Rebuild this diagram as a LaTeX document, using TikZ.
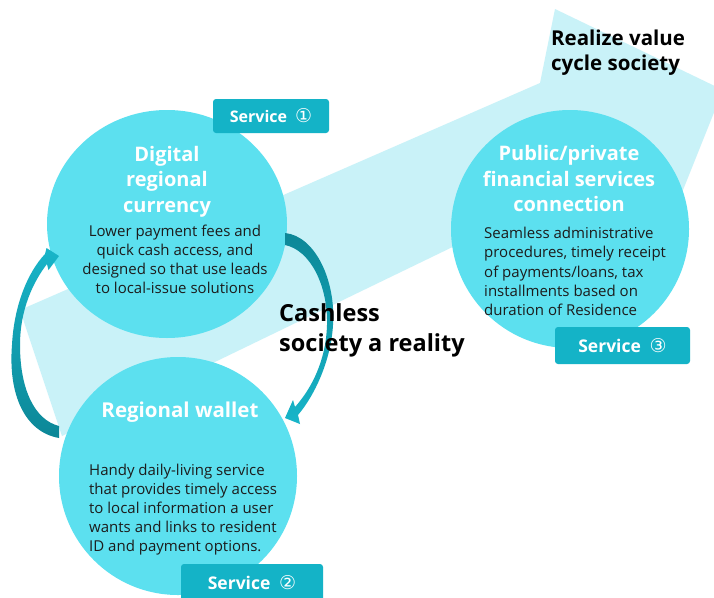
\documentclass[tikz,border=0pt]{standalone}
\usepackage{fontspec}
\setmainfont{Open Sans}
\newfontfamily\digitfont{DejaVu Sans}
\usetikzlibrary{shapes.geometric}

\definecolor{bandc}{HTML}{C9F2F8}
\definecolor{discc}{HTML}{5CE0EF}
\definecolor{tagc}{HTML}{14B3C7}
\definecolor{arrowdark}{HTML}{0C8797}
\definecolor{arrowlight}{HTML}{18B5C9}
\definecolor{inkc}{HTML}{1C1C1C}

% circled service number, a little larger than the label text
\newcommand{\servicenum}[1]{{\digitfont\mdseries\fontsize{19}{19}\selectfont #1}}

\begin{document}
\begin{tikzpicture}[x=1pt, y=-1pt,
  disc/.style={circle, fill=discc, draw=none, minimum size=238pt, inner sep=0pt},
  tag/.style={rectangle, rounded corners=3pt, fill=tagc, text=white,
    font=\bfseries\fontsize{16}{19}\selectfont, inner sep=0pt},
  title/.style={text=white, font=\bfseries\fontsize{20}{25.5}\selectfont,
    align=center, inner sep=0pt},
  body/.style={text=inkc, font=\fontsize{15}{19.2}\selectfont, inner sep=0pt},
  headline/.style={text=black, align=left, inner sep=0pt, anchor=west},
  bendarrow/.style={draw=none}]

\clip (0,0) rectangle (714,597);
\fill[white] (0,0) rectangle (714,597);

% broad background arrow
\fill[bandc] (20,310) -- (540,83) -- (555,9) -- (723,90) -- (627,330)
  -- (560,195) -- (62,436) -- cycle;

% the three service discs
\node[ellipse, fill=discc, draw=none, minimum width=240pt, minimum height=228pt,
  inner sep=0pt] (currency) at (167,224) {};
\node[disc] (finance) at (570,229) {};
\node[disc] (wallet) at (178,476) {};

% cycle arrow: wallet -> currency
\shade[bendarrow, top color=arrowlight, bottom color=arrowdark]
  (59,426) -- (59,438)
  .. controls (25,432) and (8,395) .. (12,345)
  .. controls (14,305) and (28,272) .. (45,254)
  -- (46.5,248) -- (59,256) -- (48.5,270) -- (47,264)
  .. controls (33,282) and (20,310) .. (20,345)
  .. controls (20,390) and (35,420) .. (59,426) -- cycle;

% cycle arrow: currency -> wallet
\shade[bendarrow, top color=arrowdark, bottom color=arrowlight]
  (285,233)
  .. controls (315,236) and (336,280) .. (333,325)
  .. controls (331,360) and (315,395) .. (298,415)
  -- (300,424) -- (285,418) -- (293,400) -- (295,407)
  .. controls (312,388) and (326,360) .. (327,325)
  .. controls (328,285) and (310,250) .. (285,245) -- cycle;

% service tags
\node[tag, minimum width=116pt, minimum height=34pt] (tag1) at (271,116)
  {Service\enspace\servicenum{①}};
\node[tag, minimum width=135pt, minimum height=37pt,
  font=\bfseries\fontsize{17.5}{20}\selectfont] (tag3) at (622.5,345.5)
  {Service\enspace\servicenum{③}};
\node[tag, minimum width=142pt, minimum height=38pt,
  font=\bfseries\fontsize{17.5}{20}\selectfont] (tag2) at (252,583)
  {Service\enspace\servicenum{②}};

% disc titles
\node[title] (currencyTitle) at (167,181.5) {Digital\\regional\\currency};
\node[title] (financeTitle) at (569,178.5) {Public/private\\financial services\\connection};
\node[title, font=\bfseries\fontsize{20.5}{25}\selectfont] (walletTitle) at (180,412)
  {Regional wallet};

% disc descriptions
\node[body, align=center] (currencyBody) at (175,259.5)
  {Lower payment fees and\\quick cash access, and\\designed so that use leads\\to local-issue solutions};
\node[body, align=left, anchor=west] (financeBody) at (484,271.5)
  {Seamless administrative\\procedures, timely receipt\\of payments/loans, tax\\installments based on\\duration of Residence};
\node[body, align=left, anchor=west] (walletBody) at (89,509.5)
  {Handy daily-living service\\that provides timely access\\to local information a user\\wants and links to resident\\ID and payment options.};

% headlines
\node[headline, font=\bfseries\fontsize{20.5}{25}\selectfont] (goal) at (551,52.5)
  {Realize value\\cycle society};
\node[headline, font=\bfseries\fontsize{23.5}{30}\selectfont] (cashless) at (279,330)
  {Cashless\\society a reality};

\end{tikzpicture}
\end{document}
